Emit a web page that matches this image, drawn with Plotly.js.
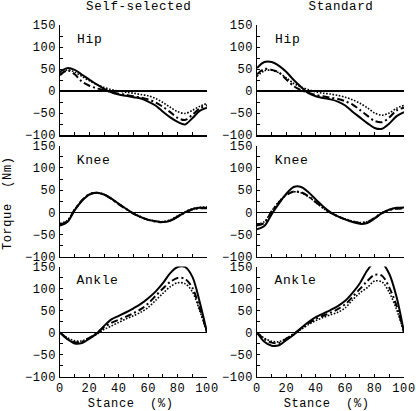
<!DOCTYPE html>
<html>
<head>
<meta charset="utf-8">
<script src="https://cdn.plot.ly/plotly-3.0.1.min.js"></script>
<style>
html,body{margin:0;padding:0;background:#fff}
#chart{width:416px;height:411px}
#chart svg text{letter-spacing:0.6px}
</style>
</head>
<body>
<div id="chart"></div>
<script>
// Stance (%) sample points
const stance = [0,5,10,15,20,25,30,35,40,45,50,55,60,65,70,75,80,85,90,95,100];

// Hip torque (Nm)
const hipSelfSolid   = [44,52,48,37,26,15,5,-3,-8,-11,-14,-17,-24,-33,-47,-60,-70,-76,-62,-45,-38];
const hipSelfDashDot = [36,47,38,21,12,6,2,-3,-6,-9,-12,-15,-19,-26,-36,-48,-61,-66,-54,-40,-32];
const hipSelfDot     = [40,48,43,33,23,15,8,3,0,-3,-5,-8,-11,-17,-26,-37,-47,-51,-44,-35,-28];
const hipStdSolid    = [52,66,66,57,43,25,9,-5,-12,-16,-19,-24,-33,-47,-60,-73,-84,-86,-74,-57,-48];
const hipStdDashDot  = [38,50,48,42,26,11,2,-4,-9,-12,-15,-18,-23,-31,-43,-56,-68,-71,-60,-44,-38];
const hipStdDot      = [33,46,47,41,30,17,9,3,-2,-5,-7,-10,-14,-20,-28,-38,-50,-55,-50,-39,-33];

// Knee torque (Nm)
const kneeSelfSolid   = [-30,-22,5,26,40,44,40,31,19,8,-3,-11,-17,-20,-22,-19,-10,0,7,10,10];
const kneeSelfDashDot = [-28,-20,6,27,41,44,40,30,18,7,-3,-11,-17,-21,-22,-18,-10,-1,6,9,9];
const kneeSelfDot     = [-25,-18,6,27,41,44,40,31,19,8,-2,-10,-16,-20,-21,-17,-8,1,8,11,12];
const kneeStdSolid    = [-38,-31,-4,20,42,57,57,45,29,13,0,-9,-16,-22,-26,-24,-14,-2,6,10,11];
const kneeStdDashDot  = [-30,-24,2,23,39,47,45,36,23,10,-1,-9,-16,-21,-24,-22,-13,-2,5,8,9];
const kneeStdDot      = [-27,-21,3,24,40,46,44,35,22,9,-1,-9,-15,-20,-23,-21,-12,-1,6,9,10];

// Ankle torque (Nm)
const ankleSelfSolid   = [0,-15,-25,-24,-14,-2,15,30,38,46,55,65,78,93,112,135,149,149,127,70,0];
const ankleSelfDashDot = [0,-14,-22,-21,-12,-1,12,22,29,36,44,53,66,83,100,115,124,122,102,55,0];
const ankleSelfDot     = [0,-12,-19,-19,-12,-4,7,15,23,31,38,46,57,73,89,104,113,111,93,50,0];
const ankleStdSolid    = [0,-21,-30,-29,-17,-5,10,24,35,43,51,60,72,90,112,141,160,158,133,80,0];
const ankleStdDashDot  = [0,-15,-23,-24,-14,-3,9,21,31,38,45,53,64,81,99,117,131,129,102,60,0];
const ankleStdDot      = [0,-13,-20,-21,-13,-3,7,18,27,34,40,46,56,74,90,102,117,115,91,52,0];

const columnTitles = ["Self-selected", "Standard"];
const jointLabels = ["Hip", "Knee", "Ankle"];
const yTicks = [-100,-50,0,50,100,150];
const yMinorTicks = [-75,-25,25,75,125];
const xTicks = [0,20,40,60,80,100];
const xMinorTicks = [10,30,50,70,90];

const panels = [
  [hipSelfSolid, hipSelfDashDot, hipSelfDot],
  [hipStdSolid, hipStdDashDot, hipStdDot],
  [kneeSelfSolid, kneeSelfDashDot, kneeSelfDot],
  [kneeStdSolid, kneeStdDashDot, kneeStdDot],
  [ankleSelfSolid, ankleSelfDashDot, ankleSelfDot],
  [ankleStdSolid, ankleStdDashDot, ankleStdDot]
];

const styles = [
  {color:'#000', width:2, dash:'solid'},
  {color:'#000', width:2, dash:'7px,3px,2px,3px'},
  {color:'#000', width:1.6, dash:'1.6px,1.6px'}
];

const W = 416, H = 411;
const FONT = 'Liberation Mono, DejaVu Sans Mono, monospace';
const xDomains = [[60/W, 207/W], [257/W, 404/W]];
const yDomains = [[1-135/H, 1-25/H], [1-256.7/H, 1-145.7/H], [1-376.5/H, 1-266.5/H]];

const traces = [];
const layout = {
  width: W, height: H,
  margin: {l:0, r:0, t:0, b:0},
  paper_bgcolor: '#fff', plot_bgcolor: '#fff',
  showlegend: false,
  font: {family: FONT, size: 12, color: '#000'},
  annotations: []
};

panels.forEach((series, i) => {
  const n = i + 1;
  const row = Math.floor(i / 2), col = i % 2;
  const xa = n === 1 ? 'x' : 'x' + n;
  const ya = n === 1 ? 'y' : 'y' + n;
  series.forEach((vals, k) => {
    traces.push({
      x: stance, y: vals, xaxis: xa, yaxis: ya,
      type: 'scatter', mode: 'lines',
      line: Object.assign({shape:'spline', smoothing:0.9}, styles[k]),
      hoverinfo: 'skip'
    });
  });
  layout['xaxis' + (n === 1 ? '' : n)] = {
    domain: xDomains[col], anchor: ya, range: [0, 100],
    showgrid: false, zeroline: false,
    showline: true, linecolor: '#000', linewidth: 1.5,
    ticks: 'inside', ticklen: 3, tickwidth: 1, tickcolor: '#000',
    tickmode: 'array', tickvals: xTicks,
    minor: {tickmode: 'array', tickvals: xMinorTicks, ticks: 'inside', ticklen: 3, tickwidth: 1, tickcolor: '#000'},
    showticklabels: row === 2,
    ticklabeloverflow: 'allow',
    tickfont: {family: FONT, size: 12, color: '#000'},
    fixedrange: true
  };
  layout['yaxis' + (n === 1 ? '' : n)] = {
    domain: yDomains[row], anchor: xa, range: [-100, 150],
    showgrid: false,
    zeroline: true, zerolinecolor: '#000', zerolinewidth: 1.5,
    showline: true, linecolor: '#000', linewidth: 1.5,
    ticks: 'inside', ticklen: 3, tickwidth: 1, tickcolor: '#000',
    tickmode: 'array', tickvals: yTicks,
    minor: {tickmode: 'array', tickvals: yMinorTicks, ticks: 'inside', ticklen: 3, tickwidth: 1, tickcolor: '#000'},
    ticklabeloverflow: 'allow',
    tickfont: {family: FONT, size: 12, color: '#000'},
    fixedrange: true
  };
});

const ann = layout.annotations;
const plain = {showarrow: false, xref: 'paper', yref: 'paper'};
ann.push(Object.assign({}, plain, {text: columnTitles[0], x: 138.7/W, y: 1-6.5/H, xanchor:'center', yanchor:'middle', font:{family:FONT, size:12.5, color:'#000'}}));
ann.push(Object.assign({}, plain, {text: columnTitles[1], x: 340.5/W, y: 1-6.5/H, xanchor:'center', yanchor:'middle', font:{family:FONT, size:12.5, color:'#000'}}));
ann.push(Object.assign({}, plain, {text: 'Torque  (Nm)', x: 7.5/W, y: 1-204/H, xanchor:'center', yanchor:'middle', textangle:-90, font:{family:FONT, size:12, color:'#000'}}));
ann.push(Object.assign({}, plain, {text: 'Stance  (%)', x: 130/W, y: 1-404/H, xanchor:'center', yanchor:'middle', font:{family:FONT, size:12, color:'#000'}}));
ann.push(Object.assign({}, plain, {text: 'Stance  (%)', x: 326/W, y: 1-404/H, xanchor:'center', yanchor:'middle', font:{family:FONT, size:12, color:'#000'}}));
const labelY = [39, 160, 280];
jointLabels.forEach((lab, r) => {
  [76, 274].forEach(px => {
    ann.push(Object.assign({}, plain, {text: lab, x: px/W, y: 1-labelY[r]/H, xanchor:'left', yanchor:'middle', font:{family:FONT, size:13, color:'#000'}}));
  });
});

Plotly.newPlot('chart', traces, layout, {staticPlot: true, displayModeBar: false}).then(gd => {
  // The last x tick label of the bottom-right axis gets dropped near the page edge;
  // re-create it from the matching bottom-left label, placed with the axes' own scales.
  const fl = gd._fullLayout;
  const lastTick = xTicks[xTicks.length - 1];
  const label = String(lastTick);
  document.querySelectorAll('g.x6tick text').forEach(t => {
    if (t.textContent === label) t.parentNode.removeChild(t);
  });
  const src = Array.from(document.querySelectorAll('g.x5tick text')).find(t => t.textContent === label);
  if (src) {
    const ax5 = fl.xaxis5, ax6 = fl.xaxis6, ay5 = fl.yaxis5, ay6 = fl.yaxis6;
    const dx = (ax6._offset + ax6.l2p(lastTick)) - (ax5._offset + ax5.l2p(lastTick));
    const dy = (ay6._offset + ay6._length) - (ay5._offset + ay5._length);
    const g = document.createElementNS('http://www.w3.org/2000/svg', 'g');
    g.setAttribute('class', 'x6tick');
    g.setAttribute('transform', 'translate(' + dx + ',' + dy + ')');
    const clone = src.cloneNode(true);
    clone.style.display = '';
    clone.style.opacity = '1';
    g.appendChild(clone);
    src.parentNode.parentNode.appendChild(g);
  }
});
</script>
</body>
</html>
